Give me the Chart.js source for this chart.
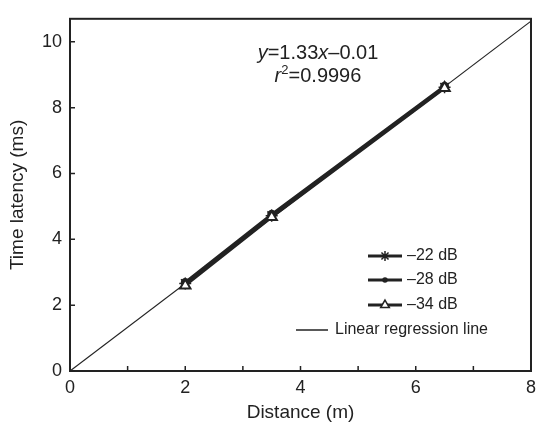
<!DOCTYPE html>
<html>
<head>
<meta charset="utf-8">
<script src="https://cdn.jsdelivr.net/npm/chart.js@4/dist/chart.umd.min.js"></script>
<style>
  body { margin: 0; background: #fff; }
  #wrap { position: relative; width: 542px; height: 431px; }
  .eq {
    position: absolute; left: 218px; width: 200px; text-align: center;
    font-family: 'Liberation Sans', Arial, sans-serif; font-size: 20px; color: #222;
    line-height: 23px;
  }
  .eq i { font-style: italic; }
  .eq sup { font-size: 13px; line-height: 0; vertical-align: 8px; }
</style>
</head>
<body>
<div id="wrap">
  <canvas id="chart" width="542" height="431"></canvas>
  <div class="eq" style="top:41px"><i>y</i>=1.33<i>x</i>–0.01</div>
  <div class="eq" style="top:64px"><i>r</i><sup>2</sup>=0.9996</div>
</div>
<script>
// measured points, distance (m) vs latency (ms)
const distances = [2, 3.5, 6.5];
const latency22 = [2.66, 4.72, 8.62];
const latency28 = [2.69, 4.76, 8.65];
const latency34 = [2.60, 4.68, 8.60];
const seriesLabels = ['–22 dB', '–28 dB', '–34 dB'];

// regression line endpoints
const regX = [0, 8];
const regY = [0, 10.63];
const regLabel = 'Linear regression line';

const ink = '#222';
const font = "'Liberation Sans', Arial, sans-serif";

function pts(xs, ys) {
    return xs.map((x, i) => ({ x: x, y: ys[i] }));
}

// boxed frame, inward ticks and in-plot legend
const framePlugin = {
    id: 'frame',
    afterDraw(chart) {
        const ctx = chart.ctx;
        const a = chart.chartArea;
        const xs = chart.scales.x;
        const ys = chart.scales.y;
        ctx.save();
        ctx.strokeStyle = ink;
        ctx.lineWidth = 2;
        ctx.strokeRect(a.left, a.top, a.right - a.left, a.bottom - a.top);

        ctx.lineWidth = 1.5;
        ctx.beginPath();
        xs.ticks.forEach(t => {
            const px = xs.getPixelForValue(t.value);
            ctx.moveTo(px, a.bottom);
            ctx.lineTo(px, a.bottom - 5);
        });
        ys.ticks.forEach(t => {
            const py = ys.getPixelForValue(t.value);
            ctx.moveTo(a.left, py);
            ctx.lineTo(a.left + 5, py);
        });
        ctx.stroke();

        // legend
        const rows = [256, 280, 305];
        ctx.font = '16px ' + font;
        ctx.textBaseline = 'middle';
        ctx.fillStyle = ink;
        chart.data.datasets.slice(1).forEach((ds, i) => {
            const y = rows[i];
            ctx.strokeStyle = ink;
            ctx.lineWidth = 3;
            ctx.beginPath();
            ctx.moveTo(368, y);
            ctx.lineTo(402, y);
            ctx.stroke();
            ctx.fillStyle = ds.pointBackgroundColor;
            ctx.lineWidth = 1.5;
            Chart.helpers.drawPoint(ctx, {
                pointStyle: ds.pointStyle,
                radius: ds.pointRadius - 1,
                rotation: 0,
                borderWidth: 1.5
            }, 385, y);
            ctx.fillStyle = ink;
            ctx.fillText(ds.label, 407, y);
        });
        const ry = 330;
        ctx.strokeStyle = ink;
        ctx.lineWidth = 1.5;
        ctx.beginPath();
        ctx.moveTo(296, ry);
        ctx.lineTo(328, ry);
        ctx.stroke();
        ctx.fillText(regLabel, 335, ry);
        ctx.restore();
    }
};

new Chart(document.getElementById('chart').getContext('2d'), {
    type: 'scatter',
    data: {
        datasets: [
            {
                label: regLabel,
                data: pts(regX, regY),
                showLine: true,
                borderColor: ink,
                borderWidth: 1.2,
                pointRadius: 0,
                order: 4
            },
            {
                label: seriesLabels[0],
                data: pts(distances, latency22),
                showLine: true,
                borderColor: ink,
                borderWidth: 3,
                pointStyle: 'star',
                pointRadius: 6,
                pointBorderWidth: 1.5,
                pointBorderColor: ink,
                pointBackgroundColor: ink,
                order: 3
            },
            {
                label: seriesLabels[1],
                data: pts(distances, latency28),
                showLine: true,
                borderColor: ink,
                borderWidth: 3,
                pointStyle: 'circle',
                pointRadius: 3,
                pointBorderColor: ink,
                pointBackgroundColor: ink,
                order: 2
            },
            {
                label: seriesLabels[2],
                data: pts(distances, latency34),
                showLine: true,
                borderColor: ink,
                borderWidth: 3,
                pointStyle: 'triangle',
                pointRadius: 6,
                pointBorderWidth: 2,
                pointBorderColor: ink,
                pointBackgroundColor: '#fff',
                order: 1
            }
        ]
    },
    options: {
        responsive: false,
        animation: false,
        layout: { padding: { top: 8, right: 5, left: 0, bottom: 0 } },
        plugins: {
            legend: { display: false },
            tooltip: { enabled: false }
        },
        scales: {
            x: {
                type: 'linear',
                min: 0,
                max: 8,
                afterFit: s => { s.height = 60; },
                grid: { drawOnChartArea: false, drawTicks: false },
                border: { display: false },
                ticks: {
                    stepSize: 1,
                    padding: 6,
                    color: ink,
                    font: { family: font, size: 18 },
                    callback: v => (v % 2 === 0 ? v : '')
                },
                title: {
                    display: true,
                    text: 'Distance (m)',
                    color: ink,
                    font: { family: font, size: 19 },
                    padding: { top: 0, bottom: 7 }
                }
            },
            y: {
                type: 'linear',
                min: 0,
                max: 10.7,
                afterFit: s => { s.width = 70; },
                grid: { drawOnChartArea: false, drawTicks: false },
                border: { display: false },
                ticks: {
                    stepSize: 2,
                    includeBounds: false,
                    padding: 8,
                    color: ink,
                    font: { family: font, size: 18 }
                },
                title: {
                    display: true,
                    text: 'Time latency (ms)',
                    color: ink,
                    font: { family: font, size: 19 },
                    padding: { top: 6, bottom: 0 }
                }
            }
        }
    },
    plugins: [framePlugin]
});
</script>
</body>
</html>
